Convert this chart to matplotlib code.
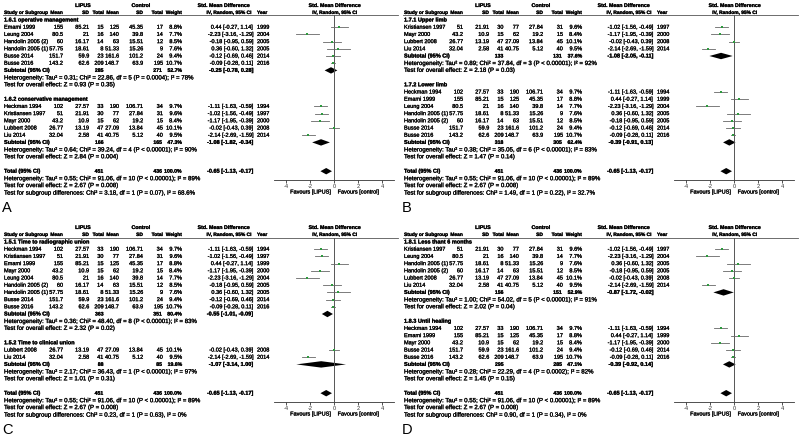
import numpy as np
import matplotlib.pyplot as plt
import matplotlib.patheffects as pe

plt.rcParams['font.family'] = ['Liberation Sans', 'DejaVu Sans']

# Datos de cada estudio (comunes a los cuatro paneles)
study_names = ["Heckman 1994", "Kristiansen 1997", "Emami 1999", "Mayr 2000",
               "Leung 2004", "Handolin 2005 (2)", "Handolin 2005 (1)",
               "Lubbert 2008", "Busse 2014", "Busse 2016", "Liu 2014"]
lipus_mean = [102, 51, 155, 43.2, 80.5, 60, 57.75, 26.77, 151.7, 143.2, 32.04]
lipus_sd = [27.57, 21.91, 85.21, 10.9, 21, 16.17, 18.61, 13.19, 59.9, 62.6, 2.58]
lipus_n = [33, 30, 15, 15, 16, 14, 8, 47, 23, 209, 41]
ctrl_mean = [190, 77, 125, 62, 140, 63, 51.33, 27.09, 161.6, 148.7, 40.75]
ctrl_sd = [106.71, 27.84, 45.35, 19.2, 39.8, 15.51, 15.26, 13.84, 101.2, 63.9, 5.12]
ctrl_n = [34, 31, 17, 15, 14, 12, 9, 45, 24, 195, 40]
weight = [9.7, 9.6, 8.8, 8.4, 7.7, 8.5, 7.6, 10.1, 9.4, 10.7, 9.5]
smd = [-1.11, -1.02, 0.44, -1.17, -2.23, -0.18, 0.36, -0.02, -0.12, -0.09, -2.14]
smd_lo = [-1.63, -1.56, -0.27, -1.95, -3.16, -0.95, -0.60, -0.43, -0.69, -0.28, -2.69]
smd_hi = [-0.59, -0.49, 1.14, -0.39, -1.29, 0.59, 1.32, 0.39, 0.46, 0.11, -1.59]
years = [1994, 1997, 1999, 2000, 2004, 2005, 2005, 2008, 2014, 2016, 2014]

# Subgrupos de cada panel
panel_labels = ["A", "B", "C", "D"]
subgroup_titles = [["1.6.1 operative management", "1.6.2 conservative management"],
                   ["1.7.1 Upper limb", "1.7.2 Lower limb"],
                   ["1.5.1 Time to radiographic union", "1.5.2 Time to clinical union"],
                   ["1.8.1 Less thant 6 months", "1.8.3 Until healing"]]
subgroup_members = [
    [["Emami 1999", "Leung 2004", "Handolin 2005 (2)", "Handolin 2005 (1)", "Busse 2014", "Busse 2016"],
     ["Heckman 1994", "Kristiansen 1997", "Mayr 2000", "Lubbert 2008", "Liu 2014"]],
    [["Kristiansen 1997", "Mayr 2000", "Lubbert 2008", "Liu 2014"],
     ["Heckman 1994", "Emami 1999", "Leung 2004", "Handolin 2005 (1)", "Handolin 2005 (2)",
      "Busse 2014", "Busse 2016"]],
    [["Heckman 1994", "Kristiansen 1997", "Emami 1999", "Mayr 2000", "Leung 2004",
      "Handolin 2005 (2)", "Handolin 2005 (1)", "Busse 2014", "Busse 2016"],
     ["Lubbert 2008", "Liu 2014"]],
    [["Kristiansen 1997", "Leung 2004", "Handolin 2005 (1)", "Handolin 2005 (2)", "Lubbert 2008", "Liu 2014"],
     ["Heckman 1994", "Emami 1999", "Mayr 2000", "Busse 2014", "Busse 2016"]],
]
subtotal_lipus_n = [[285, 166], [133, 318], [363, 88], [156, 295]]
subtotal_ctrl_n = [[271, 165], [131, 305], [351, 85], [151, 285]]
subtotal_weight = [[52.7, 47.3], [37.6, 62.4], [80.4, 19.6], [52.9, 47.1]]
subtotal_smd = [[-0.25, -1.08], [-1.08, -0.39], [-0.55, -1.07], [-0.87, -0.39]]
subtotal_lo = [[-0.78, -1.82], [-2.05, -0.91], [-1.01, -3.14], [-1.72, -0.92]]
subtotal_hi = [[0.28, -0.34], [-0.11, 0.13], [-0.09, 1.00], [-0.02, 0.14]]
subtotal_het = [
    ["Tau² = 0.31; Chi² = 22.86, df = 5 (P = 0.0004); I² = 78%",
     "Tau² = 0.64; Chi² = 39.24, df = 4 (P < 0.00001); I² = 90%"],
    ["Tau² = 0.89; Chi² = 37.84, df = 3 (P < 0.00001); I² = 92%",
     "Tau² = 0.38; Chi² = 35.05, df = 6 (P < 0.00001); I² = 83%"],
    ["Tau² = 0.36; Chi² = 48.40, df = 8 (P < 0.00001); I² = 83%",
     "Tau² = 2.17; Chi² = 36.43, df = 1 (P < 0.00001); I² = 97%"],
    ["Tau² = 1.00; Chi² = 54.02, df = 5 (P < 0.00001); I² = 91%",
     "Tau² = 0.28; Chi² = 22.29, df = 4 (P = 0.0002); I² = 82%"],
]
subtotal_z = [["Z = 0.93 (P = 0.35)", "Z = 2.84 (P = 0.004)"],
              ["Z = 2.18 (P = 0.03)", "Z = 1.47 (P = 0.14)"],
              ["Z = 2.32 (P = 0.02)", "Z = 1.01 (P = 0.31)"],
              ["Z = 2.02 (P = 0.04)", "Z = 1.45 (P = 0.15)"]]
subgroup_diff = ["Chi² = 3.18, df = 1 (P = 0.07), I² = 68.6%",
                 "Chi² = 1.49, df = 1 (P = 0.22), I² = 32.7%",
                 "Chi² = 0.23, df = 1 (P = 0.63), I² = 0%",
                 "Chi² = 0.90, df = 1 (P = 0.34), I² = 0%"]

# Totales (iguales en todos los paneles)
total_lipus_n = 451
total_ctrl_n = 436
total_smd = [-0.65, -1.13, -0.17]
total_het = "Tau² = 0.55; Chi² = 91.06, df = 10 (P < 0.00001); I² = 89%"
total_z = "Z = 2.67 (P = 0.008)"

FS = 4.0       # texto de la tabla
FS_HEAD = 3.5  # cabecera de columnas
FS_NOTE = 4.4  # lineas de heterogeneidad y tests
FS_SUM = 3.7   # numeros de subtotales y total
W, H = 800, 444
origins = [(0, 0), (400, 0), (0, 222), (400, 222)]
# trazo fino alrededor del texto para imitar el aspecto grueso del original
grueso = [pe.withStroke(linewidth=0.18, foreground='black')]


def fila(r):
    return 20 + 7.2 * r


def ci_txt(e, lo, hi):
    return f"{e:.2f} [{lo:.2f}, {hi:.2f}]"


def dibujar_panel(txt, fig, p):
    ox, oy = origins[p]

    def put(x, y, s, ha='left', bold=False, size=FS):
        txt.text(ox + x, oy + y, s, ha=ha, va='center', fontsize=size,
                 fontweight='bold' if bold else 'normal', color='black',
                 path_effects=grueso)

    # Encabezados
    put(83, 5.5, "LIPUS", 'center', True, 3.8)
    put(141, 5.5, "Control", 'center', True, 3.8)
    put(224, 5.5, "Std. Mean Difference", 'center', True, 3.8)
    put(335, 5.5, "Std. Mean Difference", 'center', True, 3.8)
    put(4, 12.5, "Study or Subgroup", bold=True, size=FS_HEAD)
    for x, s in zip([63, 89, 104, 119, 143, 163, 182],
                    ["Mean", "SD", "Total", "Mean", "SD", "Total", "Weight"]):
        put(x, 12.5, s, 'right', True, FS_HEAD)
    put(252, 12.5, "IV, Random, 95% CI", 'right', True, FS_HEAD)
    put(257, 12.5, "Year", bold=True, size=FS_HEAD)
    put(335, 12.5, "IV, Random, 95% CI", 'center', True, FS_HEAD)
    txt.plot([ox + 3, ox + 398], [oy + 15.5, oy + 15.5], color='#555555', lw=0.6)

    # Ejes del forest plot
    ax = fig.add_axes([(ox + 274) / W, 1 - (oy + 180) / H, 120 / W, (180 - 15.5) / H])
    ax.set_xlim(-5, 5)
    ax.set_ylim(180, 15.5)
    ax.patch.set_alpha(0)
    for s in ['top', 'left', 'right']:
        ax.spines[s].set_visible(False)
    ax.spines['bottom'].set_linewidth(0.6)
    ax.spines['bottom'].set_color('#333333')
    ax.set_yticks([])
    ax.set_xticks([-4, -2, 0, 2, 4])
    ax.set_xticklabels(["-4", "-2", "0", "2", "4"])
    ax.tick_params(axis='x', labelsize=FS, length=2, width=0.6, pad=1, colors='#333333')
    ax.axvline(0, color='#555555', lw=0.7)
    ax.text(-0.3, 192, "Favours [LIPUS]", ha='right', va='center', fontsize=FS,
            clip_on=False, path_effects=grueso)
    ax.text(0.3, 192, "Favours [control]", ha='left', va='center', fontsize=FS,
            clip_on=False, path_effects=grueso)

    def diamante(y, e, lo, hi):
        ax.fill([lo, e, hi, e], [y, y - 3.2, y, y + 3.2], color='black', lw=0)

    r = 0
    for g in range(2):
        put(4, fila(r), subgroup_titles[p][g], bold=True)
        r += 1
        for name in subgroup_members[p][g]:
            i = study_names.index(name)
            y = fila(r)
            put(4, y, name)
            put(63, y, f"{lipus_mean[i]:g}", 'right')
            put(89, y, f"{lipus_sd[i]:g}", 'right')
            put(103.5, y, str(lipus_n[i]), 'right')
            put(119, y, f"{ctrl_mean[i]:g}", 'right')
            put(143, y, f"{ctrl_sd[i]:g}", 'right')
            put(163, y, str(ctrl_n[i]), 'right')
            put(182, y, f"{weight[i]:.1f}%", 'right')
            put(253, y, ci_txt(smd[i], smd_lo[i], smd_hi[i]), 'right')
            put(257, y, str(years[i]))
            ax.plot([smd_lo[i], smd_hi[i]], [y, y], color='#666666', lw=0.6)
            ax.plot(smd[i], y, 's', color='#2e9a3e', ms=1.8 * np.sqrt(weight[i] / 9), mew=0)
            r += 1
        y = fila(r)
        put(4, y, "Subtotal (95% CI)", bold=True)
        put(103.5, y, str(subtotal_lipus_n[p][g]), 'right', True, FS_SUM)
        put(162, y, str(subtotal_ctrl_n[p][g]), 'right', True, FS_SUM)
        put(182, y, f"{subtotal_weight[p][g]:.1f}%", 'right', True, FS_SUM)
        put(253, y, ci_txt(subtotal_smd[p][g], subtotal_lo[p][g], subtotal_hi[p][g]), 'right', True)
        diamante(y, subtotal_smd[p][g], subtotal_lo[p][g], subtotal_hi[p][g])
        r += 1
        put(4, fila(r), "Heterogeneity: " + subtotal_het[p][g], size=FS_NOTE)
        r += 1
        put(4, fila(r), "Test for overall effect: " + subtotal_z[p][g], size=FS_NOTE)
        r += 2

    y = fila(r)
    put(4, y, "Total (95% CI)", bold=True)
    put(103.5, y, str(total_lipus_n), 'right', True, FS_SUM)
    put(162, y, str(total_ctrl_n), 'right', True, FS_SUM)
    put(182, y, "100.0%", 'right', True, FS_SUM)
    put(253, y, ci_txt(*total_smd), 'right', True)
    diamante(y, *total_smd)
    put(4, fila(r + 1), "Heterogeneity: " + total_het, size=FS_NOTE)
    put(4, fila(r + 2), "Test for overall effect: " + total_z, size=FS_NOTE)
    put(4, fila(r + 3), "Test for subgroup differences: " + subgroup_diff[p], size=FS_NOTE)

    txt.text(ox + 2, oy + 208, panel_labels[p], ha='left', va='center', fontsize=10.5)


fig = plt.figure(figsize=(8, 4.44), dpi=100)
txt = fig.add_axes([0, 0, 1, 1])
txt.set_xlim(0, W)
txt.set_ylim(H, 0)
txt.axis('off')

for p in range(4):
    dibujar_panel(txt, fig, p)

plt.savefig("out.png", dpi=100, facecolor='white')
